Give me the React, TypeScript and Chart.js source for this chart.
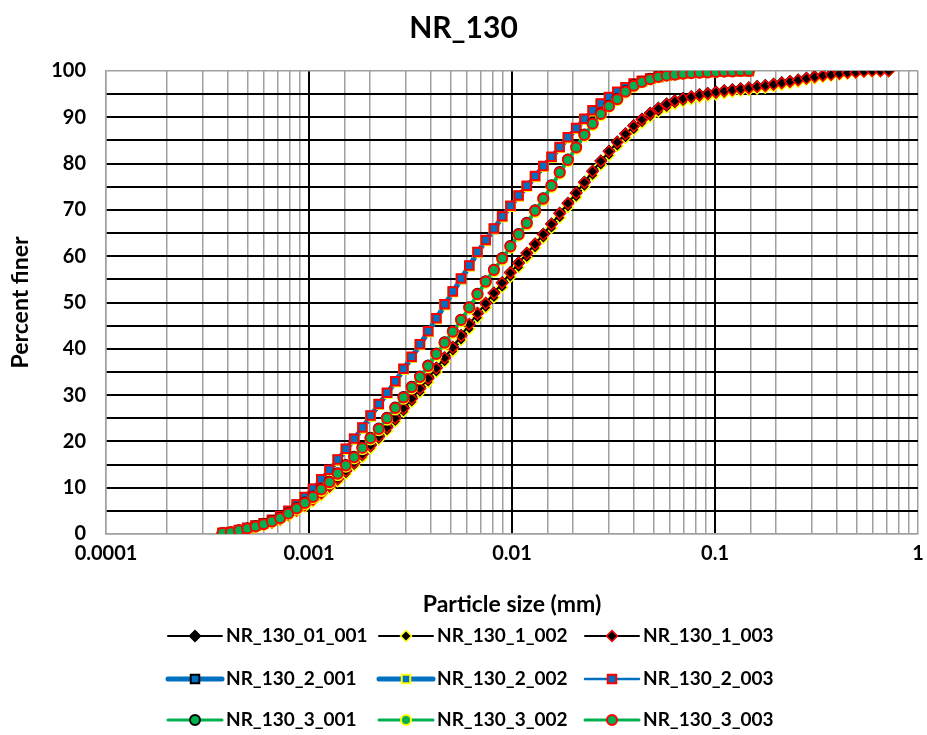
import React, { useEffect, useRef } from 'react';
import { Chart, registerables } from 'chart.js';

Chart.register(...registerables);

// ---------------- data ----------------
const TITLE = 'NR_130';
const X_TITLE = 'Particle size (mm)';
const Y_TITLE = 'Percent finer';
const X_TICK_LABELS = ['0.0001', '0.001', '0.01', '0.1', '1'];

// particle size bins (mm)
const SIZES_MM = [
  0.000375, 0.000412, 0.000452, 0.000496, 0.000545, 0.000598, 0.000657, 0.000721, 0.000791, 0.000869,
  0.000954, 0.001047, 0.001149, 0.001261, 0.001385, 0.00152, 0.001669, 0.001832, 0.00201, 0.002207,
  0.002423, 0.00266, 0.00292, 0.003205, 0.003519, 0.003863, 0.00424, 0.004655, 0.00511, 0.00561,
  0.006158, 0.00676, 0.007421, 0.008147, 0.008943, 0.009817, 0.01078, 0.01183, 0.01299, 0.01426,
  0.01565, 0.01718, 0.01886, 0.02071, 0.02273, 0.02495, 0.02739, 0.03007, 0.03301, 0.03624,
  0.03978, 0.04367, 0.04794, 0.05262, 0.05777, 0.06341, 0.06961, 0.07642, 0.08389, 0.09209,
  0.1011, 0.111, 0.1218, 0.1337, 0.1468, 0.1612, 0.1769, 0.1942, 0.2132, 0.2341,
  0.2569, 0.2821, 0.3096, 0.3399, 0.3731, 0.4096, 0.4497, 0.4936, 0.5419, 0.5949,
  0.653, 0.7169,
];

const NR_130_01_001 = [
  0.1, 0.3, 0.7, 1.1, 1.5, 2.0, 2.6, 3.3, 4.2, 5.2,
  6.3, 7.5, 8.9, 10.4, 12.0, 13.7, 15.5, 17.3, 19.2, 21.1,
  23.1, 25.1, 27.2, 29.3, 31.5, 33.7, 35.9, 38.1, 40.4, 42.9,
  45.3, 47.7, 49.9, 52.1, 54.3, 56.5, 58.6, 60.7, 62.7, 64.8,
  67.0, 69.3, 71.5, 73.7, 76.0, 78.4, 80.6, 82.7, 84.7, 86.5,
  88.2, 89.6, 90.9, 92.0, 92.9, 93.6, 94.1, 94.5, 94.9, 95.2,
  95.5, 95.8, 96.0, 96.2, 96.4, 96.7, 96.9, 97.2, 97.5, 97.8,
  98.1, 98.5, 98.8, 99.0, 99.3, 99.5, 99.6, 99.8, 99.9, 100,
  100, 100,
];
const NR_130_1_002 = [
  0.1, 0.3, 0.6, 1.0, 1.4, 1.9, 2.4, 3.0, 3.9, 4.9,
  5.9, 7.1, 8.4, 9.9, 11.4, 13.0, 14.8, 16.6, 18.5, 20.4,
  22.3, 24.3, 26.4, 28.5, 30.6, 32.8, 35.0, 37.2, 39.5, 41.9,
  44.3, 46.7, 48.9, 51.1, 53.3, 55.5, 57.6, 59.7, 61.8, 63.9,
  66.1, 68.3, 70.6, 72.8, 75.1, 77.5, 79.7, 81.8, 83.8, 85.6,
  87.3, 88.8, 90.1, 91.2, 92.1, 92.9, 93.4, 93.9, 94.3, 94.6,
  94.9, 95.2, 95.5, 95.7, 95.9, 96.2, 96.4, 96.7, 97.0, 97.3,
  97.7, 98.1, 98.4, 98.7, 99.0, 99.2, 99.4, 99.6, 99.8, 99.9,
  100, 100,
];
const NR_130_1_003 = [
  0.1, 0.35, 0.7, 1.1, 1.5, 2.0, 2.5, 3.2, 4.1, 5.1,
  6.2, 7.4, 8.8, 10.3, 11.9, 13.6, 15.4, 17.2, 19.1, 21.0,
  23.0, 25.0, 27.1, 29.2, 31.4, 33.6, 35.8, 38.0, 40.3, 42.8,
  45.3, 47.6, 49.8, 52.0, 54.2, 56.4, 58.5, 60.6, 62.6, 64.7,
  66.9, 69.2, 71.4, 73.6, 75.9, 78.3, 80.5, 82.6, 84.6, 86.4,
  88.1, 89.5, 90.8, 91.9, 92.8, 93.5, 94.0, 94.4, 94.8, 95.1,
  95.4, 95.7, 95.9, 96.1, 96.3, 96.6, 96.8, 97.1, 97.4, 97.7,
  98.0, 98.4, 98.7, 99.0, 99.2, 99.4, 99.6, 99.7, 99.9, 100,
  100, 100,
];

const NR_130_2_001 = [
  0.2, 0.4, 0.8, 1.3, 1.8, 2.3, 3.0, 3.8, 4.9, 6.3,
  7.9, 9.7, 11.7, 13.8, 16.0, 18.3, 20.5, 22.9, 25.5, 28.0,
  30.4, 32.9, 35.6, 38.2, 40.9, 43.7, 46.5, 49.5, 52.3, 55.1,
  57.9, 60.8, 63.4, 65.9, 68.5, 70.8, 73.0, 75.1, 77.2, 79.4,
  81.4, 83.5, 85.6, 87.6, 89.6, 91.4, 92.9, 94.3, 95.4, 96.4,
  97.2, 97.8, 98.3, 98.7, 99.0, 99.3, 99.5, 99.6, 99.7, 99.8,
  99.9, 99.9, 100, 100, 100,
];
const NR_130_2_002 = [
  0.2, 0.4, 0.8, 1.2, 1.7, 2.2, 2.9, 3.7, 4.8, 6.2,
  7.8, 9.6, 11.6, 13.7, 15.9, 18.2, 20.4, 22.8, 25.4, 27.9,
  30.3, 32.8, 35.5, 38.1, 40.8, 43.6, 46.4, 49.4, 52.2, 55.0,
  57.8, 60.7, 63.3, 65.8, 68.4, 70.7, 72.9, 75.0, 77.1, 79.3,
  81.3, 83.4, 85.5, 87.5, 89.5, 91.3, 92.8, 94.2, 95.3, 96.3,
  97.1, 97.8, 98.3, 98.7, 99.0, 99.2, 99.4, 99.6, 99.7, 99.8,
  99.9, 99.9, 100, 100, 100,
];
const NR_130_2_003 = [
  0.2, 0.45, 0.85, 1.3, 1.8, 2.3, 3.0, 3.9, 5.0, 6.4,
  8.0, 9.8, 11.8, 13.9, 16.1, 18.4, 20.6, 23.0, 25.6, 28.1,
  30.5, 33.0, 35.7, 38.3, 41.0, 43.8, 46.6, 49.6, 52.4, 55.2,
  58.0, 60.9, 63.5, 66.0, 68.6, 70.9, 73.1, 75.2, 77.3, 79.5,
  81.5, 83.6, 85.7, 87.7, 89.7, 91.5, 93.0, 94.4, 95.5, 96.5,
  97.3, 97.9, 98.4, 98.8, 99.1, 99.3, 99.5, 99.6, 99.7, 99.8,
  99.9, 99.9, 100, 100, 100,
];

const NR_130_3_001 = [
  0.2, 0.4, 0.8, 1.2, 1.7, 2.2, 2.8, 3.5, 4.5, 5.6,
  6.8, 8.1, 9.7, 11.3, 13.1, 14.9, 16.7, 18.7, 20.8, 22.8,
  25.1, 27.3, 29.6, 31.8, 34.0, 36.4, 39.0, 41.4, 43.8, 46.3,
  49.0, 51.9, 54.6, 57.1, 59.6, 62.2, 64.8, 67.2, 69.9, 72.5,
  75.3, 78.2, 80.9, 83.6, 86.3, 88.7, 90.8, 92.5, 94.0, 95.6,
  96.9, 97.7, 98.3, 98.8, 99.1, 99.3, 99.5, 99.6, 99.7, 99.8,
  99.9, 99.9, 100, 100, 100,
];
const NR_130_3_002 = [
  0.1, 0.3, 0.7, 1.1, 1.5, 2.0, 2.6, 3.3, 4.2, 5.3,
  6.5, 7.8, 9.3, 10.9, 12.7, 14.5, 16.3, 18.3, 20.4, 22.4,
  24.7, 26.9, 29.2, 31.4, 33.6, 36.0, 38.6, 41.0, 43.4, 45.9,
  48.6, 51.5, 54.2, 56.7, 59.2, 61.8, 64.4, 66.8, 69.5, 72.1,
  74.9, 77.8, 80.5, 83.2, 85.9, 88.3, 90.4, 92.2, 93.7, 95.3,
  96.6, 97.5, 98.1, 98.6, 98.9, 99.2, 99.4, 99.5, 99.6, 99.7,
  99.8, 99.9, 99.9, 100, 100,
];
const NR_130_3_003 = [
  0.2, 0.4, 0.8, 1.2, 1.6, 2.1, 2.7, 3.4, 4.4, 5.5,
  6.7, 8.0, 9.6, 11.2, 13.0, 14.8, 16.6, 18.6, 20.7, 22.7,
  25.0, 27.2, 29.5, 31.7, 33.9, 36.3, 38.9, 41.3, 43.7, 46.2,
  48.9, 51.8, 54.5, 57.0, 59.5, 62.1, 64.7, 67.1, 69.8, 72.4,
  75.2, 78.1, 80.8, 83.5, 86.2, 88.6, 90.7, 92.4, 93.9, 95.5,
  96.8, 97.6, 98.2, 98.7, 99.0, 99.2, 99.4, 99.5, 99.6, 99.7,
  99.8, 99.9, 99.9, 100, 100,
];

const SERIES_NAMES = [
  'NR_130_01_001', 'NR_130_1_002', 'NR_130_1_003',
  'NR_130_2_001', 'NR_130_2_002', 'NR_130_2_003',
  'NR_130_3_001', 'NR_130_3_002', 'NR_130_3_003',
];
const SERIES_VALUES = [
  NR_130_01_001, NR_130_1_002, NR_130_1_003,
  NR_130_2_001, NR_130_2_002, NR_130_2_003,
  NR_130_3_001, NR_130_3_002, NR_130_3_003,
];

// ---------------- styles ----------------
const FONT = 'Lato, "Open Sans", "DejaVu Sans", sans-serif';
const BLACK = '#000000';
const BLUE = '#0070C0';
const GREEN = '#00B050';
const YELLOW = '#FFFF00';
const RED = '#FF0000';
const GRID_GRAY = '#A0A0A0';

const STYLES = [
  { line: BLACK, lw: 2, shape: 'rectRot', r: 5.5, fill: BLACK, edge: BLACK, bw: 1.5 },
  { line: BLACK, lw: 2, shape: 'rectRot', r: 5.5, fill: BLACK, edge: YELLOW, bw: 1.5 },
  { line: BLACK, lw: 2, shape: 'rectRot', r: 5.5, fill: BLACK, edge: RED, bw: 1.5 },
  { line: BLUE, lw: 5, shape: 'rect', r: 6, fill: BLUE, edge: BLACK, bw: 2 },
  { line: BLUE, lw: 5, shape: 'rect', r: 6, fill: BLUE, edge: YELLOW, bw: 2 },
  { line: BLUE, lw: 2.5, shape: 'rect', r: 6, fill: BLUE, edge: RED, bw: 2 },
  { line: GREEN, lw: 3, shape: 'circle', r: 5, fill: GREEN, edge: BLACK, bw: 2 },
  { line: GREEN, lw: 3, shape: 'circle', r: 5, fill: GREEN, edge: YELLOW, bw: 2 },
  { line: GREEN, lw: 3, shape: 'circle', r: 5, fill: GREEN, edge: RED, bw: 2 },
];

const LEGEND_COL_X = [168, 379, 585];
const LEGEND_ROW_Y = [636, 679, 720];
const LEGEND_LINE_LEN = 54;

function drawMarker(ctx: CanvasRenderingContext2D, shape: string, x: number, y: number, r: number,
  fill: string, edge: string, bw: number) {
  ctx.beginPath();
  if (shape === 'rectRot') {
    ctx.moveTo(x, y - r); ctx.lineTo(x + r, y); ctx.lineTo(x, y + r); ctx.lineTo(x - r, y); ctx.closePath();
  } else if (shape === 'rect') {
    const h = r * Math.SQRT1_2;
    ctx.rect(x - h, y - h, 2 * h, 2 * h);
  } else {
    ctx.arc(x, y, r, 0, Math.PI * 2);
  }
  ctx.fillStyle = fill; ctx.fill();
  ctx.lineWidth = bw; ctx.strokeStyle = edge; ctx.stroke();
}

const gridLegend = {
  id: 'gridLegend',
  afterDraw(chart: any) {
    const ctx: CanvasRenderingContext2D = chart.ctx;
    ctx.save();
    chart.data.datasets.forEach((ds: any, i: number) => {
      const x0 = LEGEND_COL_X[i % 3];
      const y = LEGEND_ROW_Y[Math.floor(i / 3)];
      ctx.beginPath();
      ctx.lineCap = 'round';
      ctx.strokeStyle = ds.borderColor;
      ctx.lineWidth = ds.borderWidth;
      ctx.moveTo(x0, y); ctx.lineTo(x0 + LEGEND_LINE_LEN, y); ctx.stroke();
      drawMarker(ctx, ds.pointStyle, x0 + LEGEND_LINE_LEN / 2, y, ds.pointRadius,
        ds.pointBackgroundColor, ds.pointBorderColor, ds.pointBorderWidth);
      ctx.fillStyle = BLACK;
      ctx.font = `bold 19px ${FONT}`;
      ctx.textAlign = 'left';
      ctx.textBaseline = 'middle';
      ctx.fillText(ds.label, x0 + LEGEND_LINE_LEN + 4, y);
    });
    ctx.restore();
  },
};

function isPow10(v: number) {
  const l = Math.log10(v);
  return Math.abs(l - Math.round(l)) < 1e-6;
}

export default function App() {
  const ref = useRef<HTMLCanvasElement | null>(null);

  useEffect(() => {
    if (!ref.current) return;
    const datasets = SERIES_VALUES.map((vals, k) => {
      const s = STYLES[k];
      return {
        label: SERIES_NAMES[k],
        data: vals.map((y, i) => ({ x: SIZES_MM[i], y })),
        borderColor: s.line,
        borderWidth: s.lw,
        backgroundColor: s.fill,
        pointStyle: s.shape,
        pointRadius: s.r,
        pointHoverRadius: s.r,
        pointBackgroundColor: s.fill,
        pointBorderColor: s.edge,
        pointBorderWidth: s.bw,
        tension: 0,
        fill: false,
        order: SERIES_VALUES.length - k,
      };
    });

    const chart = new Chart(ref.current, {
      type: 'line',
      data: { datasets },
      plugins: [gridLegend],
      options: {
        responsive: false,
        animation: false,
        devicePixelRatio: 1,
        layout: { padding: { left: 0, right: 0, top: 0, bottom: 115 } },
        plugins: {
          legend: { display: false },
          tooltip: { enabled: false },
          title: {
            display: true,
            text: TITLE,
            color: BLACK,
            font: { family: FONT, size: 30, weight: 'bold' },
            padding: { top: 10, bottom: 25 },
          },
        },
        scales: {
          x: {
            type: 'logarithmic',
            min: 0.0001,
            max: 1,
            afterFit: (s: any) => { s.height = 86; s.paddingRight = 9; s.paddingLeft = 0; },
            border: { color: GRID_GRAY, width: 1.5 },
            grid: {
              drawTicks: false,
              color: (c: any) => {
                const v = c.tick ? c.tick.value : 0;
                return isPow10(v) && v > 0.00011 && v < 0.99 ? BLACK : GRID_GRAY;
              },
              lineWidth: (c: any) => {
                const v = c.tick ? c.tick.value : 0;
                return isPow10(v) && v > 0.00011 && v < 0.99 ? 2 : 1.5;
              },
            },
            ticks: {
              autoSkip: false,
              maxRotation: 0,
              padding: 8,
              color: BLACK,
              font: { family: FONT, size: 20, weight: 'bold' },
              callback: (v: any) => {
                const n = Number(v);
                if (!isPow10(n)) return '';
                const idx = Math.round(Math.log10(n)) + 4;
                return X_TICK_LABELS[idx] ?? '';
              },
            },
            title: {
              display: true,
              text: X_TITLE,
              color: BLACK,
              font: { family: FONT, size: 23, weight: 'bold' },
              padding: { top: 0, bottom: 2 },
            },
          },
          y: {
            type: 'linear',
            min: 0,
            max: 100,
            afterFit: (s: any) => { s.width = 106; },
            border: { color: GRID_GRAY, width: 1.5 },
            grid: {
              drawTicks: false,
              color: (c: any) => {
                const v = c.tick ? c.tick.value : 0;
                return v === 0 || v === 100 ? GRID_GRAY : BLACK;
              },
              lineWidth: (c: any) => {
                const v = c.tick ? c.tick.value : 0;
                return v === 0 || v === 100 ? 1.5 : 2;
              },
            },
            ticks: {
              stepSize: 5,
              autoSkip: false,
              padding: 20,
              color: BLACK,
              font: { family: FONT, size: 20, weight: 'bold' },
              callback: (v: any) => (Number(v) % 10 === 0 ? String(v) : ''),
            },
            title: {
              display: true,
              text: Y_TITLE,
              color: BLACK,
              font: { family: FONT, size: 23, weight: 'bold' },
              padding: { top: 7, bottom: 0 },
            },
          },
        },
      } as any,
    });
    return () => chart.destroy();
  }, []);

  return (
    <div style={{ position: 'fixed', left: 0, top: 0, width: 927, height: 735, background: '#fff' }}>
      <canvas ref={ref} width={927} height={735} style={{ display: 'block' }} />
    </div>
  );
}
